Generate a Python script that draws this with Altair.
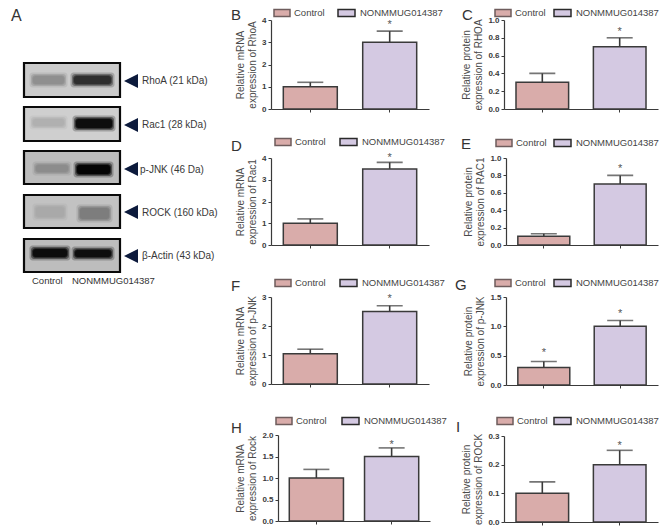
import altair as alt
import pandas as pd

CATS = ["Control", "NONMMUG014387"]
COLORS = ["#d9acaa", "#d4c9e2"]
KEY_STROKES = ["#6e5c5c", "#2a2a2a"]
INK = "#3a3a3a"
FONT = "Liberation Sans"

bars_B = [1.0, 3.0]; errs_B = [1.2, 3.5]; stars_B = [None, 3.85]
bars_C = [0.3, 0.7]; errs_C = [0.4, 0.8]; stars_C = [None, 0.89]
bars_D = [1.0, 3.5]; errs_D = [1.2, 3.8]; stars_D = [None, 4.1]
bars_E = [0.1, 0.7]; errs_E = [0.13, 0.8]; stars_E = [None, 0.9]
bars_F = [1.04, 2.5]; errs_F = [1.2, 2.7]; stars_F = [None, 3.0]
bars_G = [0.3, 1.0]; errs_G = [0.4, 1.1]; stars_G = [0.58, 1.25]
bars_H = [1.0, 1.5]; errs_H = [1.2, 1.7]; stars_H = [None, 1.81]
bars_I = [0.1, 0.2]; errs_I = [0.14, 0.25]; stars_I = [None, 0.272]

ticks_4 = [0, 1, 2, 3, 4]
ticks_3 = [0, 1, 2, 3]
ticks_1 = [0.0, 0.2, 0.4, 0.6, 0.8, 1.0]
ticks_15 = [0.0, 0.5, 1.0, 1.5]
ticks_2 = [0.0, 0.5, 1.0, 1.5, 2.0]
ticks_03 = [0.0, 0.1, 0.2, 0.3]

CELL_H = 89
COL_W = {270: 159, 503: 154}
KEY_W = (16, 17)
KEY_H = 7


def panel(letter, title, bars, errs, stars, ticks, fmt, box, cell, letter_xy, key_x, key_y,
          inner=0.32, outer=0.155):
    """box = left,right,top,bottom of the plot; cell = left,top of the grid cell (picture px)."""
    left, right, top, bottom = box
    cx, cy = cell
    df = pd.DataFrame({"group": CATS, "value": bars, "err": errs, "star": stars})
    x = alt.X("group:N", sort=CATS, title=None,
              scale=alt.Scale(domain=CATS, range=[left - cx, right - cx],
                              paddingInner=inner, paddingOuter=outer),
              axis=alt.Axis(labels=False, ticks=True, tickSize=3, tickColor=INK,
                            domainColor=INK, domainWidth=1.2, grid=False,
                            offset=bottom - cy - CELL_H))
    yscale = alt.Scale(domain=[ticks[0], ticks[-1]], nice=False, zero=True,
                       range=[bottom - cy, top - cy])
    yaxis = alt.Axis(values=ticks, format=fmt, tickSize=3, tickColor=INK,
                     domainColor=INK, domainWidth=1.2, grid=False,
                     offset=cx - left, labelOverlap=False,
                     labelFontSize=8, labelFontWeight="bold", labelColor=INK,
                     labelPadding=2, titleFontSize=10, titleFontWeight="normal",
                     titleColor="#4a4a4a", titlePadding=4, labelFont=FONT, titleFont=FONT)
    yy = lambda f: alt.Y(f, scale=yscale, title=title, axis=yaxis)
    base = alt.Chart(df)
    stem = base.mark_rule(color=INK, strokeWidth=1.6).encode(x=x, y=yy("value:Q"), y2="err:Q")
    cap = base.mark_tick(color=INK, thickness=1.6, size=26, orient="horizontal").encode(
        x=x, y=yy("err:Q"))
    bar = base.mark_bar(stroke=INK, strokeWidth=1.5).encode(
        x=x, y=yy("value:Q"),
        color=alt.Color("group:N", sort=CATS, legend=None,
                        scale=alt.Scale(domain=CATS, range=COLORS)))
    star = base.mark_text(text="*", font=FONT, fontSize=11, color="#555555", dy=2).encode(
        x=x, y=yy("star:Q"))
    tag = alt.Chart(pd.DataFrame({"t": [letter]})).mark_text(
        align="left", baseline="middle", font=FONT, fontSize=15, color="#333333"
    ).encode(text="t:N", x=alt.value(letter_xy[0] - cx), y=alt.value(letter_xy[1] - cy))
    layers = [stem, cap, bar, star, tag]
    for name, fill, edge, kx, kw, tx in zip(CATS, COLORS, KEY_STROKES, key_x, KEY_W, (20, 22)):
        row = alt.Chart(pd.DataFrame({"t": [name]}))
        layers.append(row.mark_rect(fill=fill, stroke=edge, strokeWidth=1.5).encode(
            x=alt.value(kx - cx), x2=alt.value(kx + kw - cx),
            y=alt.value(key_y - KEY_H / 2 - cy), y2=alt.value(key_y + KEY_H / 2 - cy)))
        layers.append(row.mark_text(align="left", baseline="middle", font=FONT, fontSize=9.5,
                                    color="#444444").encode(
            text="t:N", x=alt.value(kx + tx - cx), y=alt.value(key_y - cy)))
    return alt.layer(*layers).properties(width=COL_W[cx], height=CELL_H)


B = panel("B", ["Relative mRNA", "expression of RhoA"], bars_B, errs_B, stars_B, ticks_4, "d",
          (270, 428, 21, 110), (270, 21), (230, 16), (273, 337), 14)
C = panel("C", ["Relative protein", "expression of RHOA"], bars_C, errs_C, stars_C, ticks_1, ".1f",
          (503, 657, 21, 110), (503, 21), (461, 16), (494, 553), 14)
D = panel("D", ["Relative mRNA", "expression of Rac1"], bars_D, errs_D, stars_D, ticks_4, "d",
          (270, 428, 159, 246), (270, 160), (230, 147), (274, 339), 143)
E = panel("E", ["Relative protein", "expression of RAC1"], bars_E, errs_E, stars_E, ticks_1, ".1f",
          (505, 657, 159, 246), (503, 160), (460, 145), (495, 553), 144)
F = panel("F", ["Relative mRNA", "expression of p-JNK"], bars_F, errs_F, stars_F, ticks_3, "d",
          (270, 428, 298, 385), (270, 299), (230, 287), (274, 339), 284)
G = panel("G", ["Relative protein", "expression of  p-JNK"], bars_G, errs_G, stars_G, ticks_15, ".1f",
          (505, 657, 298, 386), (503, 299), (454, 286), (494, 553), 284)
H = panel("H", ["Relative mRNA", "expression of Rock"], bars_H, errs_H, stars_H, ticks_2, ".1f",
          (277, 429, 436, 522), (270, 438), (230, 429), (275, 341), 422, inner=0.28, outer=0.15)
I = panel("I", ["Relative protein", "expression of ROCK"], bars_I, errs_I, stars_I, ticks_03, ".1f",
          (503, 657, 437, 523), (503, 438), (455, 428), (496, 553), 422)

# ---- panel A: western blot, all values in picture pixels
blot_y0 = [64, 108, 152, 196, 240]
blot_y1 = [98, 142, 185, 229, 273]
blot_bg = ["#cbcbcb", "#cfcfcf", "#bcbcbc", "#c2c2c2", "#bdbdbd"]
band_x0 = [32, 73, 32, 75, 35, 76, 35, 79, 32, 74]
band_x1 = [63, 110, 63, 111, 67, 109, 63, 108, 66, 110]
band_y0 = [77, 77, 120, 120, 166, 166, 208, 209, 250, 251]
band_y1 = [85, 85, 127, 129, 173, 175, 218, 220, 258, 258]
band_gray = ["#8f8f8f", "#2e2e2e", "#b0b0b0", "#0e0e0e", "#8c8c8c", "#040404", "#a9a9a9", "#7d7d7d", "#0c0c0c", "#0e0e0e"]
label_text = ["RhoA (21 kDa)", "Rac1 (28 kDa)", "p-JNK (46 Da)", "ROCK (160 kDa)", "β-Actin (43 kDa)"]
label_x = [141, 141, 139, 141, 141]
label_y = [82, 126, 171, 214, 257]
arrow_y = [82, 126, 170, 213, 257]
arrow_x = [130, 130, 130, 130, 130]
bottom_text = ["Control", "NONMMUG014387", "A"]
bottom_x = [31, 71, 10]
bottom_y = [282, 282, 17]
bottom_size = [9.5, 9.5, 16]

A_W = 186
sx = alt.Scale(domain=[10, 10 + A_W], range=[0, A_W], nice=False, zero=False)
sy = alt.Scale(domain=[21, 110], range=[0, 89], nice=False, zero=False)
ax = lambda f: alt.X(f, scale=sx, axis=None)
ay = lambda f: alt.Y(f, scale=sy, axis=None)

blots = pd.DataFrame({"x0": [23] * 5, "x1": [119] * 5, "y0": blot_y0, "y1": blot_y1, "bg": blot_bg})
frame = alt.Chart(blots).mark_rect(stroke="#0a0a0a", strokeWidth=2.2).encode(
    x=ax("x0:Q"), x2="x1:Q", y=ay("y0:Q"), y2="y1:Q", fill=alt.Fill("bg:N", scale=None))
halo = []
for spread, alpha in [(3.5, 0.25), (2, 0.45), (0.8, 0.7), (0, 1)]:
    halo.append(pd.DataFrame({
        "x0": [v - spread for v in band_x0], "x1": [v + spread for v in band_x1],
        "y0": [v - spread for v in band_y0], "y1": [v + spread for v in band_y1],
        "c": band_gray}).assign(a=alpha))
bands = alt.Chart(pd.concat(halo)).mark_rect(cornerRadius=3).encode(
    x=ax("x0:Q"), x2="x1:Q", y=ay("y0:Q"), y2="y1:Q",
    fill=alt.Fill("c:N", scale=None), opacity=alt.Opacity("a:Q", scale=None))
arrows = alt.Chart(pd.DataFrame({"x": arrow_x, "y": arrow_y})).mark_point(
    filled=True, shape="M-1,0L1,-1L1,1Z", size=196, color="#0c1a3c", opacity=1
).encode(x=ax("x:Q"), y=ay("y:Q"))
labels = alt.Chart(pd.DataFrame({"x": label_x, "y": label_y, "t": label_text})).mark_text(
    align="left", baseline="middle", font=FONT, fontSize=10, color="#383838"
).encode(x=ax("x:Q"), y=ay("y:Q"), text="t:N")
bottom = alt.Chart(pd.DataFrame({"x": bottom_x, "y": bottom_y, "t": bottom_text, "s": bottom_size})).mark_text(
    align="left", baseline="middle", font=FONT, color="#333333"
).encode(x=ax("x:Q"), y=ay("y:Q"), text="t:N", size=alt.Size("s:Q", scale=None))
A = alt.layer(frame, bands, arrows, labels, bottom).properties(width=A_W, height=CELL_H)


def spacer():
    return alt.Chart(pd.DataFrame({"a": [0]})).mark_point(opacity=0).encode(
        x=alt.value(0), y=alt.value(0)).properties(width=A_W, height=CELL_H)


chart = (alt.concat(A, B, C, spacer(), D, E, spacer(), F, G, spacer(), H, I, columns=3,
                    spacing={"row": 50, "column": 74}, bounds="flush", align="each")
         .resolve_scale(color="independent")
         .properties(padding=0).configure_view(stroke=None))
chart.save("out.html", embed_options={"renderer": "svg", "actions": False})
